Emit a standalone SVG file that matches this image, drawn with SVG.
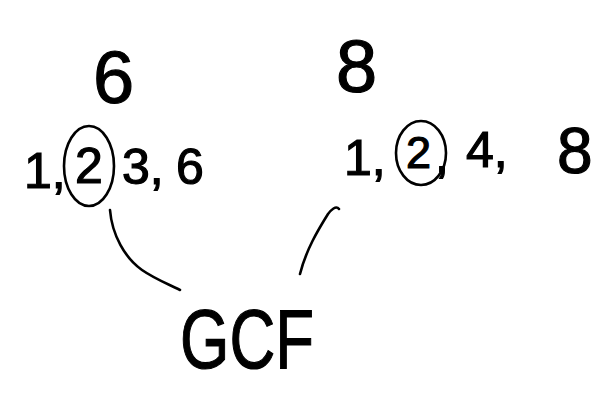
<svg xmlns="http://www.w3.org/2000/svg" width="604" height="402" viewBox="0 0 604 402">
  <style>
    .hw { font-family: "Liberation Sans", "DejaVu Sans", sans-serif; fill: #000; stroke: #000; stroke-width: 1.2; }
    .row { font-size: 50px; }
    .sm { font-size: 45px; }
    .lg { font-size: 64px; }
    .top { font-size: 74px; }
    .big { font-size: 84px; }
    .pen { fill: none; stroke: #000; stroke-width: 2.6; stroke-linecap: round; stroke-linejoin: round; }
  </style>
  <rect width="604" height="402" fill="#fff"/>

  <g id="node-six">
    <text class="hw top" x="93" y="103">6</text>
  </g>
  <g id="node-eight">
    <text class="hw top" x="336" y="92">8</text>
  </g>

  <g id="node-factors-six">
    <text class="hw row" x="24" y="188">1,</text>
    <text class="hw row" x="75" y="183">2</text>
    <ellipse class="pen" cx="89" cy="166" rx="25" ry="40"/>
    <text class="hw row" x="122" y="184">3,</text>
    <text class="hw row" x="176" y="184">6</text>
  </g>

  <g id="node-factors-eight">
    <text class="hw row" x="344" y="175">1,</text>
    <text class="hw sm" x="406" y="168">2</text>
    <text class="hw row" x="435" y="172">,</text>
    <ellipse class="pen" cx="421" cy="153" rx="25" ry="32"/>
    <text class="hw row" x="466" y="167">4,</text>
    <text class="hw lg" x="557" y="173">8</text>
  </g>

  <g id="node-gcf">
    <text class="hw big" x="180" y="368" textLength="134" lengthAdjust="spacingAndGlyphs">GCF</text>
  </g>

  <g id="connectors">
    <path class="pen" d="M110,210 C112,235 125,258 142,270 C155,279 168,284 180,290"/>
    <path class="pen" d="M339,209 C336,205 331,210 328,214 C318,230 306,250 300,274"/>
  </g>
</svg>
